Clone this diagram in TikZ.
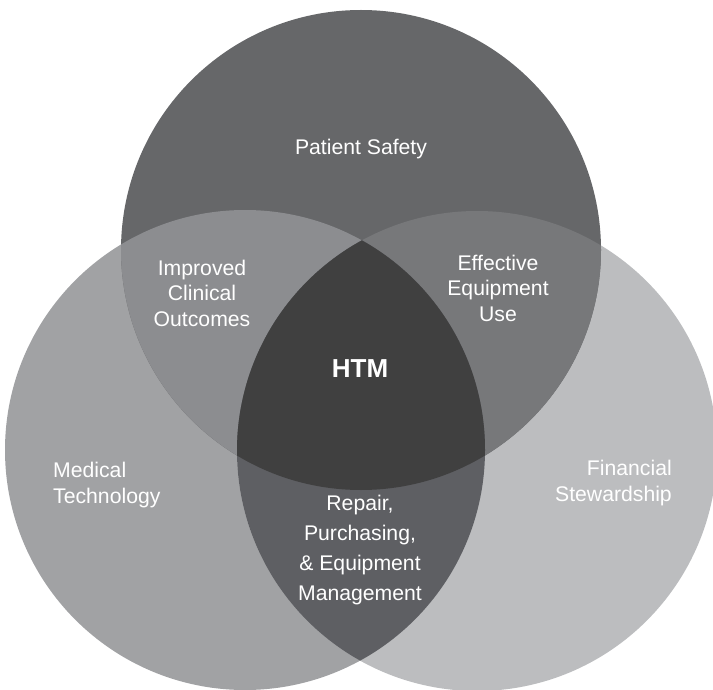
\documentclass[tikz,border=0pt]{standalone}
\usepackage{fontspec}
\setmainfont{Liberation Sans}
\definecolor{topc}{HTML}{666769}
\definecolor{leftc}{HTML}{A1A2A4}
\definecolor{rightc}{HTML}{BCBDBF}
\definecolor{tlc}{HTML}{8C8D90}
\definecolor{trc}{HTML}{77787A}
\definecolor{lrc}{HTML}{5E5F63}
\definecolor{allc}{HTML}{404040}
\begin{document}
\begin{tikzpicture}[x=1pt,y=-1pt,
  lbl/.style={text=white, font=\fontsize{21.2}{25.5}\selectfont, align=center, inner sep=0pt},
  lblwide/.style={lbl, font=\fontsize{21.2}{30.2}\selectfont}]
\useasboundingbox (0,0) rectangle (713,690);
\clip (0,0) rectangle (713,690);
% the three sets
\def\TopSet{(361,250) circle[radius=240pt]}
\def\LeftSet{(245,450) circle[radius=240pt]}
\def\RightSet{(477,451) circle[radius=240pt]}
\fill[leftc] \LeftSet;
\fill[rightc] \RightSet;
\fill[topc] \TopSet;
% pairwise overlaps
\begin{scope}
  \clip \LeftSet;
  \fill[tlc] \TopSet;
\end{scope}
\begin{scope}
  \clip \RightSet;
  \fill[trc] \TopSet;
\end{scope}
\begin{scope}
  \clip \LeftSet;
  \fill[lrc] \RightSet;
\end{scope}
% centre, shared by all three
\begin{scope}
  \clip \LeftSet;
  \clip \RightSet;
  \fill[allc] \TopSet;
\end{scope}
% labels
\node[lbl] (safety) at (361,149) {Patient Safety};
\node[lbl] (clinical) at (202,293) {Improved\\Clinical\\Outcomes};
\node[lbl] (equipuse) at (498,288) {Effective\\Equipment\\Use};
\node[lbl, font=\bfseries\fontsize{26}{30}\selectfont] (htm) at (360,369) {HTM};
\node[lbl, anchor=west, align=left] (medtech) at (53,485) {Medical\\Technology};
\node[lbl, anchor=east, align=right] (finance) at (672,483) {Financial\\Stewardship};
\node[lblwide] (repair) at (360,550) {Repair,\\Purchasing,\\\& Equipment\\Management};
\end{tikzpicture}
\end{document}
